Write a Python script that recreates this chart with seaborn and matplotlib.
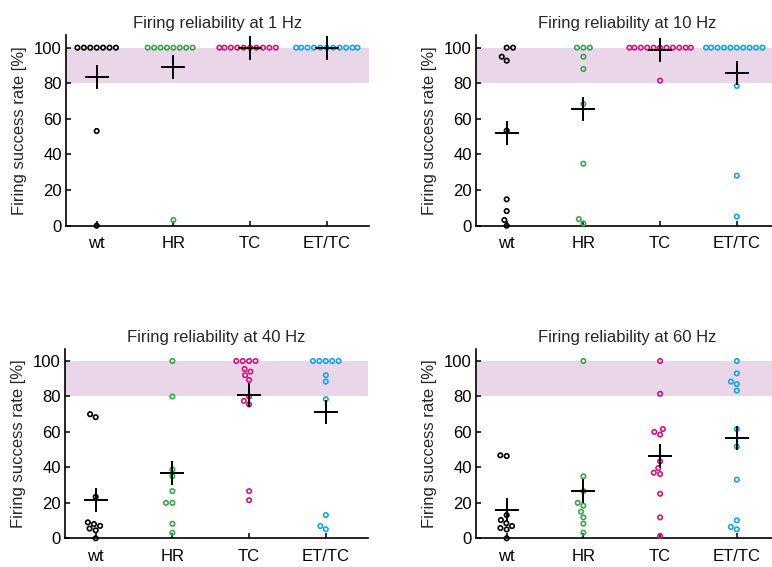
import matplotlib
matplotlib.use("Agg")
import matplotlib.pyplot as plt
import numpy as np
import pandas as pd
import seaborn as sns

# ---------------- data ----------------
groups = ["wt", "HR", "TC", "ET/TC"]
colors = ["#000000", "#3aa84a", "#d4137f", "#12a8e6"]
freqs = ["1 Hz", "10 Hz", "40 Hz", "60 Hz"]

wt_1hz = [100, 100, 100, 100, 100, 100, 100, 53.2, 0]
hr_1hz = [100, 100, 100, 100, 100, 100, 100, 100, 3.2]
tc_1hz = [100, 100, 100, 100, 100, 100, 100, 100, 100, 100]
ettc_1hz = [100, 100, 100, 100, 100, 100, 100, 100, 100, 100, 100]

wt_10hz = [100, 100, 94.9, 92.7, 53.4, 14.8, 8.2, 3.2, 0]
hr_10hz = [100, 100, 100, 94.9, 88.0, 68.4, 34.8, 3.7, 1.3]
tc_10hz = [100, 100, 100, 100, 100, 100, 100, 100, 100, 100, 100, 81.5]
ettc_10hz = [100, 100, 100, 100, 100, 100, 100, 100, 100, 100, 78.5, 28.1, 5.1]

wt_40hz = [70.0, 68.3, 23.4, 9.0, 8.0, 7.0, 5.5, 4.5, 0]
hr_40hz = [100, 80.0, 38.8, 35.0, 26.6, 20.0, 20.0, 8.2, 3.2]
tc_40hz = [100, 100, 100, 100, 95.5, 94.0, 92.0, 89.3, 80.0, 77.5, 75.5, 26.6, 21.5]
ettc_40hz = [100, 100, 100, 100, 100, 92.0, 88.4, 78.5, 13.1, 6.9, 5.1]

wt_60hz = [46.8, 46.4, 13.1, 10.3, 8.5, 6.9, 5.8, 5.0, 0]
hr_60hz = [100, 35.0, 26.6, 20.0, 18.4, 15.0, 11.8, 8.2, 3.2]
tc_60hz = [100, 81.5, 61.6, 60.0, 58.5, 43.4, 39.6, 37.0, 36.3, 25.1, 11.8, 1.3]
ettc_60hz = [100, 93.0, 88.4, 87.0, 83.3, 61.6, 51.7, 33.1, 10.1, 6.4, 5.1]

panel_data = {
    "1 Hz": [wt_1hz, hr_1hz, tc_1hz, ettc_1hz],
    "10 Hz": [wt_10hz, hr_10hz, tc_10hz, ettc_10hz],
    "40 Hz": [wt_40hz, hr_40hz, tc_40hz, ettc_40hz],
    "60 Hz": [wt_60hz, hr_60hz, tc_60hz, ettc_60hz],
}
band_low, band_high = 80, 100
yticks = [0, 20, 40, 60, 80, 100]

# ---------------- style ----------------
sns.set_style("ticks")
plt.rcParams["font.family"] = ["Liberation Sans", "DejaVu Sans"]
plt.rcParams["font.size"] = 12

W, H = 772, 567
fig = plt.figure(figsize=(W / 100, H / 100), dpi=100)

# axes rectangles in pixels: left, x-axis y (from top), width, height
rects = [
    (66, 225.7, 303, 190.5),
    (476, 225.7, 303, 190.5),
    (65, 538.3, 303, 189.7),
    (476, 538.3, 303, 189.7),
]
band_color = "#e9d6e8"

for freq, (lx, by, w, h) in zip(freqs, rects):
    ax = fig.add_axes([lx / W, (H - by) / H, w / W, h / H])
    rows = []
    for g, vals in zip(groups, panel_data[freq]):
        for v in vals:
            rows.append({"group": g, "rate": v})
    df = pd.DataFrame(rows)

    ax.axhspan(band_low, band_high, color=band_color, lw=0, zorder=0)

    n_before = len(ax.collections)
    sns.swarmplot(data=df, x="group", y="rate", hue="group", order=groups,
                  hue_order=groups, palette=colors, size=3.2, linewidth=1.2,
                  legend=False, ax=ax, zorder=3)
    for coll in ax.collections[n_before:]:
        fc = coll.get_facecolors()
        coll.set_edgecolors(fc)
        coll.set_facecolors("none")
        coll.set_clip_on(False)

    sns.pointplot(data=df, x="group", y="rate", order=groups, estimator="mean",
                  errorbar=None, color="black", marker="+", linestyle="none",
                  markersize=17, markeredgewidth=1.4, ax=ax, zorder=5)
    for line in ax.lines:
        line.set_clip_on(False)

    ax.set_xlim(-0.4, 3.55)
    ax.set_ylim(0, 107)
    ax.set_yticks(yticks)
    ax.set_xlabel("")
    ax.set_ylabel("Firing success rate [%]", fontsize=12, labelpad=5)
    ax.set_title(f"Firing reliability at {freq}", fontsize=12, pad=5)
    sns.despine(ax=ax)
    for s in ["left", "bottom"]:
        ax.spines[s].set_linewidth(1.2)
        ax.spines[s].set_color("black")
    ax.tick_params(direction="in", length=3.5, width=1.1, labelsize=12,
                   colors="black")
    ax.tick_params(axis="x", pad=7.5)
    ax.tick_params(axis="y", pad=3)

fig.savefig("out.png", dpi=100)
